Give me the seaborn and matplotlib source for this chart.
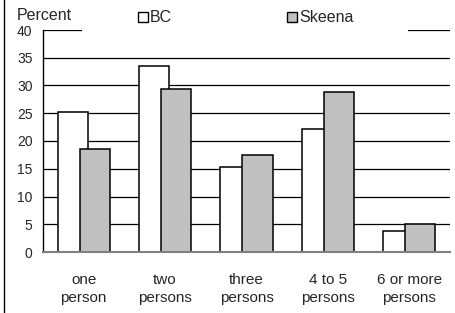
import pandas as pd
import matplotlib.pyplot as plt
import seaborn as sns
from matplotlib.patches import Rectangle, Patch
from matplotlib.lines import Line2D

# Household size data
categories = ["one\nperson", "two\npersons", "three\npersons", "4 to 5\npersons", "6 or more\npersons"]
bc = [25.3, 33.6, 15.3, 22.2, 3.7]
skeena = [18.5, 29.3, 17.5, 28.8, 5.0]
series = ["BC", "Skeena"]
colors = {"BC": "white", "Skeena": "#c0c0c0"}

df = pd.DataFrame({
    "size": categories * 2,
    "pct": bc + skeena,
    "region": ["BC"] * len(bc) + ["Skeena"] * len(skeena),
})

sns.set_style("white")
plt.rcParams["font.family"] = ["Liberation Sans", "DejaVu Sans"]

fig = plt.figure(figsize=(4.55, 3.13), dpi=100)
ax = fig.add_axes([43 / 455, 61 / 313, 407 / 455, 222 / 313])

sns.barplot(
    data=df, x="size", y="pct", hue="region", order=categories,
    hue_order=series, palette=colors, width=0.27 * 2,
    edgecolor="black", linewidth=1.1, saturation=1, legend=False, ax=ax,
)

# widen bars so the pair overlaps, keeping centres
for p in ax.patches:
    c = p.get_x() + p.get_width() / 2
    p.set_width(0.37)
    p.set_x(c - 0.185)
    p.set_zorder(2)

ax.set_xlim(-0.5, 4.5)
ax.set_ylim(0, 40)
ax.set_yticks(range(0, 45, 5))
ax.yaxis.grid(True, color="black", linewidth=0.9)
ax.set_axisbelow(True)
ax.set_xlabel("")
ax.set_ylabel("")
ax.tick_params(axis="y", length=0, pad=7.5, labelsize=10)
ax.tick_params(axis="x", length=0, pad=15, labelsize=11)
for t in ax.get_xticklabels():
    t.set_linespacing(1.4)

for s in ["top", "right"]:
    ax.spines[s].set_visible(False)
ax.spines["left"].set_color("black")
ax.spines["left"].set_linewidth(1)
ax.spines["bottom"].set_color("#808080")
ax.spines["bottom"].set_linewidth(1.5)

# white legend area hiding the top gridline
fig.add_artist(Rectangle((82 / 455, 1 - 42 / 313), 326 / 455, 38 / 313,
                         transform=fig.transFigure, facecolor="white",
                         edgecolor="none", zorder=3))

handles = [Patch(facecolor=colors[s], edgecolor="black", linewidth=1) for s in series]
fig.legend(handles, series, ncol=2, loc="center", bbox_to_anchor=(246 / 455, 1 - 18 / 313),
           frameon=False, fontsize=11.5, handlelength=0.6, handleheight=0.6,
           handletextpad=0.15, columnspacing=7.2)

fig.text(17 / 455, 1 - 16 / 313, "Percent", fontsize=11.5, va="center", ha="left", zorder=4)

# left border of the chart frame
fig.add_artist(Line2D([3.5 / 455, 3.5 / 455], [0, 1], transform=fig.transFigure,
                      color="black", linewidth=1))

plt.savefig("out.png", dpi=100)
